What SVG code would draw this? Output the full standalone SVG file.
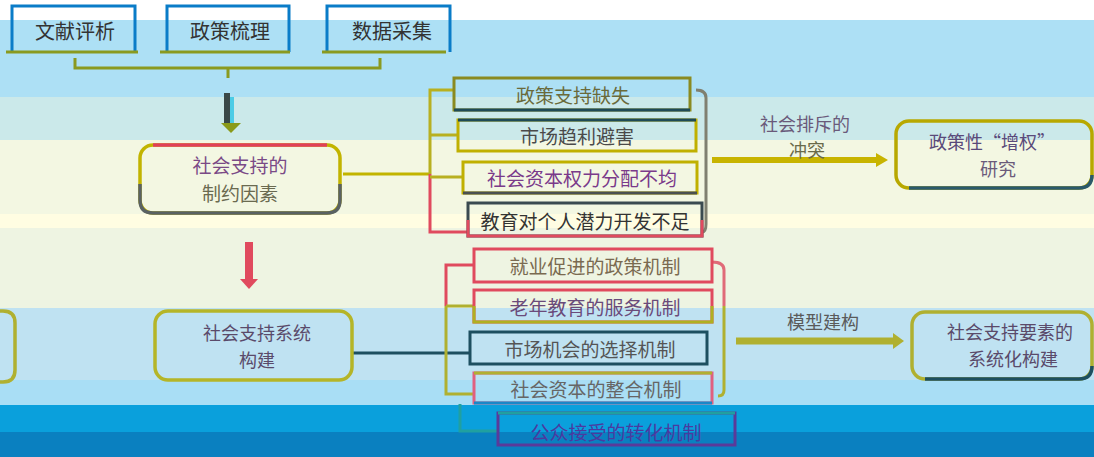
<svg xmlns="http://www.w3.org/2000/svg" width="1094" height="457" viewBox="0 0 1094 457">
<style>
.t{font-family:"Noto Sans CJK SC","Liberation Sans",sans-serif;text-anchor:middle;dominant-baseline:central}
.f20{font-size:20px}
.f19{font-size:19px}
.f18{font-size:18px}
.bx{fill:none;stroke-width:3}
.nd{fill:none;stroke-width:3.5}
.ln{fill:none;stroke-width:3}
</style>
<g id="background">
<rect x="0" y="0" width="1094" height="20" fill="#ffffff"/>
<rect x="0" y="20" width="1094" height="77" fill="#ade0f5"/>
<rect x="0" y="97" width="1094" height="43" fill="#cbe9ea"/>
<rect x="0" y="140" width="1094" height="74" fill="#f3f7e2"/>
<rect x="0" y="214" width="1094" height="14" fill="#fffde2"/>
<rect x="0" y="228" width="1094" height="80" fill="#eef4e2"/>
<rect x="0" y="308" width="1094" height="72" fill="#bfe2f2"/>
<rect x="0" y="380" width="1094" height="25" fill="#a9def5"/>
<rect x="0" y="405" width="1094" height="27" fill="#0aa0dc"/>
<rect x="0" y="432" width="1094" height="25" fill="#0a80c0"/>
</g>
<g id="connectors">
<path class="ln" d="M75 58 V68 H380 V58 M228 68 V78" stroke="#8a9a20"/>
<rect x="224" y="93" width="6" height="30" fill="#3a4848"/>
<rect x="230" y="97" width="4" height="26" fill="#4ccce6"/>
<polygon points="221,123 241,123 231,133" fill="#8a9a1a"/>
<rect x="245" y="242" width="8" height="38" fill="#e04a5e"/>
<polygon points="240,279 258,279 249,289" fill="#e04a5e"/>
<path class="ln" d="M343 174 H430" stroke="#c2b400"/>
<path class="ln" d="M453 90 H430 V174" stroke="#b8b020"/>
<path class="ln" d="M430 174 V232 H468" stroke="#e04a5e"/>
<path class="ln" d="M430 135 H458 M430 177 H463" stroke="#b8b020"/>
<path class="ln" d="M696 90 Q706 90 706 98 V224 Q706 232 702 232" stroke="#808070"/>
<polygon points="712,157 876,157 876,153 888,160 876,167 876,163 712,163" fill="#c8b400"/>
<text class="t f18" x="805" y="123" fill="#6a5a7a">社会排斥的</text>
<text class="t f18" x="807" y="149" fill="#6a6a4a">冲突</text>
<path class="ln" d="M352 353 H470" stroke="#1d4f60"/>
<path class="ln" d="M474 265 H446 V306" stroke="#e04a5e"/>
<path class="ln" d="M446 306 V394 H474" stroke="#b0b030"/>
<path class="ln" d="M446 306 H474" stroke="#b0b030"/>
<path class="ln" d="M460 404 V431 H498" stroke="#20a0a0"/>
<path class="ln" d="M712 262 Q724 262 724 270 V306" stroke="#e06a78"/>
<path class="ln" d="M724 306 V390 Q724 396 718 396" stroke="#b0b030"/>
<polygon points="736,337.5 893,337.5 893,333 904,341 893,349 893,344.5 736,344.5" fill="#b0b030"/>
<text class="t f18" x="823" y="321" fill="#5a5a5a">模型建构</text>
</g>
<g id="n-wenxian">
<path class="bx" d="M12 52 V6 H135 V52" stroke="#0a7cc8"/>
<path class="ln" d="M6 52 H138" stroke="#8a9a20"/>
<text class="t f20" x="75" y="30" fill="#333333">文献评析</text>
</g>
<g id="n-zhengce">
<path class="bx" d="M167 52 V6 H289 V52" stroke="#0a7cc8"/>
<path class="ln" d="M160 52 H290" stroke="#8a9a20"/>
<text class="t f20" x="230" y="30" fill="#333333">政策梳理</text>
</g>
<g id="n-shuju">
<path class="bx" d="M327 52 V6 H450 V52" stroke="#0a7cc8"/>
<path class="ln" d="M322 52 H446" stroke="#8a9a20"/>
<text class="t f20" x="392" y="30" fill="#333333">数据采集</text>
</g>
<g id="n-zhiyue">
<rect class="nd" x="140" y="145" width="200" height="68" rx="13" stroke="#c2b400"/>
<path class="nd" d="M140 184 V200 Q140 213 153 213 H327 Q340 213 340 200 V184" stroke="#5a6262"/>
<path class="nd" d="M153 145 H327" stroke="#e0405a"/>
<text class="t f19" x="240" y="164" fill="#7a4a86">社会支持的</text>
<text class="t f19" x="240" y="192" fill="#6a6a50">制约因素</text>
</g>
<g id="n-q1">
<rect class="bx" x="454" y="78" width="236" height="32" stroke="#8a8a20" stroke-width="4"/>
<path class="bx" d="M454 110 H690" stroke="#1e4a56" stroke-width="4"/>
<text class="t f19" x="573" y="94" fill="#6a6a3a">政策支持缺失</text>
</g>
<g id="n-q2">
<rect class="bx" x="458" y="120" width="238" height="31" stroke="#c0b000"/>
<path class="bx" d="M458 120 H696" stroke="#1e4a56"/>
<text class="t f19" x="577" y="135" fill="#4a4a4a">市场趋利避害</text>
</g>
<g id="n-q3">
<rect class="bx" x="463" y="162" width="234" height="31" stroke="#c0b000"/>
<path class="bx" d="M463 193 H697" stroke="#4a5050"/>
<text class="t f19" x="582" y="177" fill="#7a3a8a">社会资本权力分配不均</text>
</g>
<g id="n-q4">
<rect class="bx" x="468" y="203" width="234" height="33" stroke="#3a4a50"/>
<path class="bx" d="M468 220 V236 H702 V220" stroke="#e04a5e"/>
<text class="t f19" x="585" y="220" fill="#333333">教育对个人潜力开发不足</text>
</g>
<g id="n-zengquan">
<rect class="nd" x="896" y="121" width="196" height="67" rx="13" stroke="#b8a800"/>
<path class="nd" d="M909 188 H1079 Q1092 188 1092 175" stroke="#2a5a6a"/>
<text class="t f18" x="992" y="141" fill="#5a4a7a">政策性“增权”</text>
<text class="t f18" x="998" y="168" fill="#6a5a7a">研究</text>
</g>
<g id="n-left">
<path class="nd" d="M0 311 H3 Q15 311 15 323 V370 Q15 382 3 382 H0" stroke="#b0b030"/>
</g>
<g id="n-xitong">
<rect class="nd" x="155" y="311" width="197" height="69" rx="13" stroke="#b5b528"/>
<text class="t f18" x="257" y="332" fill="#5a4a6a">社会支持系统</text>
<text class="t f18" x="257" y="359" fill="#5a4a6a">构建</text>
</g>
<g id="n-m1">
<rect class="bx" x="474" y="249" width="238" height="33" stroke="#e04a5e" stroke-width="4"/>
<text class="t f19" x="595" y="265" fill="#7a6a50">就业促进的政策机制</text>
</g>
<g id="n-m2">
<rect class="bx" x="474" y="290" width="238" height="32" stroke="#e04a5e" stroke-width="4"/>
<path class="bx" d="M474 306 V322 H712 V306" stroke="#b0b020" stroke-width="4"/>
<text class="t f19" x="595" y="306" fill="#6a4a7a">老年教育的服务机制</text>
</g>
<g id="n-m3">
<rect class="bx" x="470" y="332" width="237" height="32" stroke="#1d4f60" stroke-width="4"/>
<text class="t f19" x="590" y="348" fill="#555555">市场机会的选择机制</text>
</g>
<g id="n-m4">
<rect class="bx" x="474" y="373" width="238" height="30" stroke="#e06080"/>
<path class="bx" d="M474 373 H712" stroke="#b0b030" stroke-width="4"/>
<path class="bx" d="M474 403 H712" stroke="#1a88c8"/>
<text class="t f19" x="596" y="388" fill="#666666">社会资本的整合机制</text>
</g>
<g id="n-m5">
<rect class="bx" x="498" y="413" width="237" height="32" stroke="#5a3a9a" stroke-width="4"/>
<path class="bx" d="M498 413 H735" stroke="#20a0a0"/>
<text class="t f19" x="616" y="431" fill="#4a3aa0">公众接受的转化机制</text>
</g>
<g id="n-yaosu">
<rect class="nd" x="912" y="312" width="180" height="67" rx="13" stroke="#b0b030"/>
<path class="nd" d="M925 379 H1079 Q1092 379 1092 366" stroke="#1d4f60"/>
<text class="t f18" x="1010" y="331" fill="#5a4a6a">社会支持要素的</text>
<text class="t f18" x="1013" y="358" fill="#5a4a6a">系统化构建</text>
</g>
</svg>
